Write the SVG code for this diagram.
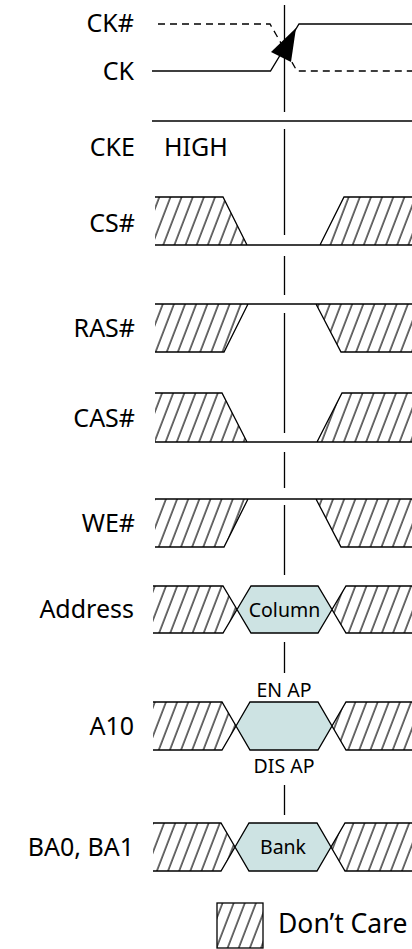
<svg xmlns="http://www.w3.org/2000/svg" width="412" height="949" viewBox="0 0 412 949">
<defs>
<pattern id="hatch" patternUnits="userSpaceOnUse" width="10.4" height="20" patternTransform="rotate(21)">
<line x1="1" y1="-2" x2="1" y2="22" stroke="#000" stroke-width="1.15"/>
</pattern>
</defs>
<style>
.lbl{font-family:"Noto Sans","Open Sans",sans-serif;font-size:25px;fill:#000;text-anchor:end}
.lbs{font-family:"Noto Sans","Open Sans",sans-serif;font-size:25px;fill:#000}
.in{font-family:"Noto Sans","Open Sans",sans-serif;font-size:19.5px;fill:#000;text-anchor:middle}
.w{fill:none;stroke:#000;stroke-width:1.3}
.h{fill:url(#hatch);stroke:none}
.bus{fill:#cde3e3;stroke:#000;stroke-width:1.3;stroke-linejoin:miter}
.ref{fill:none;stroke:#000;stroke-width:1.3}
.dash{stroke-dasharray:7 5}
</style>
<rect width="412" height="949" fill="#fff"/>

<g id="connectors">
<path class="ref" d="M284.5,5V112 M284.5,129V235 M284.5,256V295 M284.5,313V433 M284.5,452V488 M284.5,505V575 M284.5,642V673 M284.5,785V815"/>
</g>

<g id="ck">
<text class="lbl" x="134" y="32">CK#</text>
<text class="lbl" x="134" y="80">CK</text>
<path class="w dash" d="M158,24H270L297,71H412"/>
<path class="w" d="M152,71H270.5L299,24H412"/>
<polygon points="271,52 296,28 291,62" fill="#000"/>
<path class="w" d="M152,121H412"/>
</g>

<g id="cke">
<text class="lbl" x="135" y="156">CKE</text>
<text class="lbs" x="164" y="156">HIGH</text>
</g>

<g id="cs">
<text class="lbl" x="135" y="232">CS#</text>
<polygon class="h" points="155,197 223,197 247,245 155,245"/>
<polygon class="h" points="320,245 344,197 412,197 412,245"/>
<path class="w" d="M155,197H223L247,245 M155,245H412 M320,245L344,197H412"/>
</g>

<g id="ras">
<text class="lbl" x="135" y="337">RAS#</text>
<polygon class="h" points="155,304 248,304 224,352 155,352"/>
<polygon class="h" points="316,304 341,352 412,352 412,304"/>
<path class="w" d="M155,304H412 M248,304L224,352H155 M316,304L341,352H412"/>
</g>

<g id="cas">
<text class="lbl" x="135" y="427">CAS#</text>
<polygon class="h" points="155,393 222,393 247,442 155,442"/>
<polygon class="h" points="317,442 342,393 412,393 412,442"/>
<path class="w" d="M155,393H222L247,442 M155,442H412 M317,442L342,393H412"/>
</g>

<g id="we">
<text class="lbl" x="135" y="532">WE#</text>
<polygon class="h" points="155,499 248,499 224,547 155,547"/>
<polygon class="h" points="316,499 341,547 412,547 412,499"/>
<path class="w" d="M155,499H412 M248,499L224,547H155 M316,499L341,547H412"/>
</g>

<g id="address">
<text class="lbl" x="134" y="618">Address</text>
<polygon class="h" points="153,586 223,586 237,609.5 223,633 153,633"/>
<polygon class="h" points="332,609.5 346,586 412,586 412,633 346,633"/>
<path class="w" d="M153,586H223L237,609.5L223,633H153 M412,586H346L332,609.5L346,633H412"/>
<polygon class="bus" points="237,609.5 251,586 318,586 332,609.5 318,633 251,633"/>
<text class="in" x="284.5" y="617">Column</text>
</g>

<g id="a10">
<text class="lbl" x="134" y="735">A10</text>
<text class="in" x="284" y="697">EN AP</text>
<polygon class="h" points="153,702 222,702 236,726 222,750 153,750"/>
<polygon class="h" points="332,726 346,702 412,702 412,750 346,750"/>
<path class="w" d="M153,702H222L236,726L222,750H153 M412,702H346L332,726L346,750H412"/>
<polygon class="bus" points="236,726 250,702 318,702 332,726 318,750 250,750"/>
<text class="in" x="284" y="773">DIS AP</text>
</g>

<g id="ba">
<text class="lbl" x="134" y="856">BA0, BA1</text>
<polygon class="h" points="153,823 221,823 235,847 221,871 153,871"/>
<polygon class="h" points="331,847 345,823 412,823 412,871 345,871"/>
<path class="w" d="M153,823H221L235,847L221,871H153 M412,823H345L331,847L345,871H412"/>
<polygon class="bus" points="235,847 249,823 317,823 331,847 317,871 249,871"/>
<text class="in" x="283" y="854">Bank</text>
</g>

<g id="legend">
<rect x="217" y="903" width="46" height="45" fill="url(#hatch)" stroke="#000" stroke-width="1.3"/>
<text class="lbs" x="278" y="933" style="font-size:26.5px">Don’t Care</text>
</g>
</svg>
